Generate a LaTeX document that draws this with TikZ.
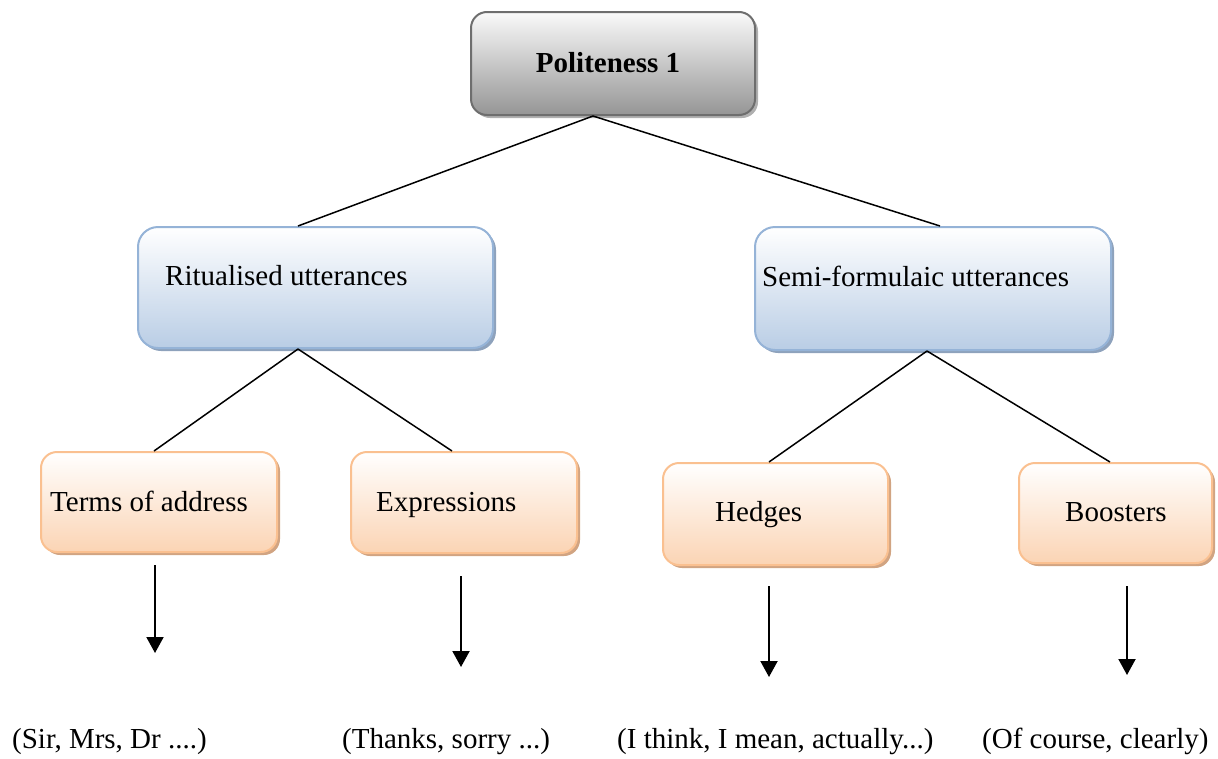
\documentclass[tikz,border=0pt]{standalone}
\usepackage{fontspec}
\setmainfont{Liberation Serif}
\usetikzlibrary{arrows.meta,shadows}

\definecolor{grayedge}{HTML}{6E6E6E}
\definecolor{graytop}{HTML}{FAFAFA}
\definecolor{graybot}{HTML}{959595}
\definecolor{grayshadow}{HTML}{B0B0B0}
\definecolor{blueedge}{HTML}{95B3D7}
\definecolor{bluebot}{HTML}{B9CDE5}
\definecolor{blueshadow}{HTML}{8EA2BC}
\definecolor{orangeedge}{HTML}{FAC090}
\definecolor{orangebot}{HTML}{FBD4B4}
\definecolor{orangeshadow}{HTML}{D1A482}

\tikzset{
  boxbase/.style={rectangle, inner sep=0pt, line width=2pt},
  rootbox/.style={boxbase, rounded corners=16pt, draw=grayedge,
    top color=graytop, bottom color=graybot,
    drop shadow={shadow xshift=3pt, shadow yshift=-3pt, fill=grayshadow, opacity=1}},
  midbox/.style={boxbase, rounded corners=20pt, draw=blueedge,
    top color=white, bottom color=bluebot,
    drop shadow={shadow xshift=3pt, shadow yshift=-3pt, fill=blueshadow, opacity=1}},
  leafbox/.style={boxbase, rounded corners=16pt, draw=orangeedge,
    top color=white, bottom color=orangebot,
    drop shadow={shadow xshift=3pt, shadow yshift=-3pt, fill=orangeshadow, opacity=1}},
  label/.style={inner sep=0pt, anchor=base west, font=\fontsize{29}{34}\selectfont},
  conn/.style={line width=1.5pt, black},
  arr/.style={line width=2pt, black, -{Triangle[width=17pt,length=16pt]}}
}

\begin{document}
\begin{tikzpicture}[x=1pt, y=-1pt]
\useasboundingbox (0,0) rectangle (1218,758);

% boxes
\node[rootbox, minimum width=284pt, minimum height=103pt] (top) at (613,63.5) {};
\node[midbox, minimum width=355pt, minimum height=121pt] (rit) at (315.5,287.5) {};
\node[midbox, minimum width=356pt, minimum height=123pt] (semi) at (933,288.5) {};
\node[leafbox, minimum width=236pt, minimum height=100pt] (terms) at (159,502) {};
\node[leafbox, minimum width=226pt, minimum height=101pt] (expr) at (464,502.5) {};
\node[leafbox, minimum width=225pt, minimum height=102pt] (hedges) at (775.5,514) {};
\node[leafbox, minimum width=193pt, minimum height=100pt] (boost) at (1115.5,513) {};

% box texts
\node[label, anchor=base, font=\fontsize{29}{34}\selectfont\bfseries] (toptxt) at (608,72) {Politeness 1};
\node[label] (rittxt) at (165,285) {Ritualised utterances};
\node[label] (semitxt) at (762,286) {Semi-formulaic utterances};
\node[label] (termstxt) at (50,511) {Terms of address};
\node[label] (exprtxt) at (376,511) {Expressions};
\node[label] (hedgestxt) at (715,521) {Hedges};
\node[label] (boosttxt) at (1065,521) {Boosters};

% tree connectors
\draw[conn] ([xshift=-20pt]top.south) -- ([xshift=-17.5pt]rit.north);
\draw[conn] ([xshift=-20pt]top.south) -- ([xshift=7pt]semi.north);
\draw[conn] ([xshift=-17.5pt]rit.south) -- ([xshift=-5pt]terms.north);
\draw[conn] ([xshift=-17.5pt]rit.south) -- ([xshift=-12pt]expr.north);
\draw[conn] ([xshift=-6pt]semi.south) -- ([xshift=-6.5pt]hedges.north);
\draw[conn] ([xshift=-6pt]semi.south) -- ([xshift=-5.5pt]boost.north);

% example arrows
\coordinate (termsend) at (155,653);
\coordinate (exprend) at (461,667);
\coordinate (hedgesend) at (769,677);
\coordinate (boostend) at (1127,675);
\draw[arr] ([xshift=-4pt,yshift=-12pt]terms.south) -- (termsend);
\draw[arr] ([xshift=-3pt,yshift=-22pt]expr.south) -- (exprend);
\draw[arr] ([xshift=-6.5pt,yshift=-20pt]hedges.south) -- (hedgesend);
\draw[arr] ([xshift=11.5pt,yshift=-22pt]boost.south) -- (boostend);

% examples
\node[label] (ex1) at (12,748) {(Sir, Mrs, Dr ....)};
\node[label] (ex2) at (342,748) {(Thanks, sorry ...)};
\node[label] (ex3) at (617,748) {(I think, I mean, actually...)};
\node[label] (ex4) at (982,748) {(Of course, clearly)};
\end{tikzpicture}
\end{document}
